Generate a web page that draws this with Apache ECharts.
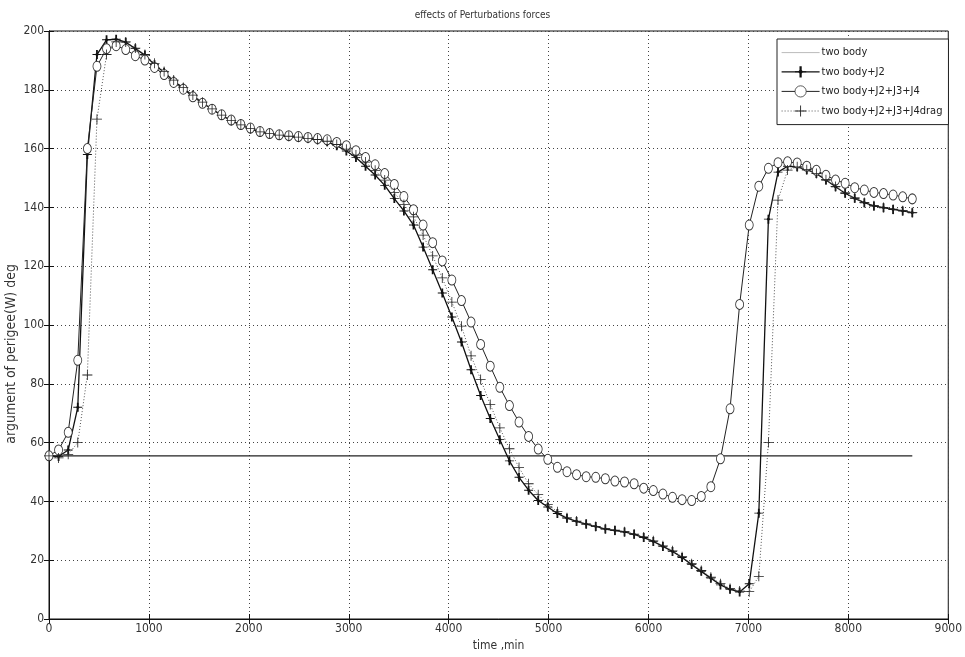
<!DOCTYPE html>
<html>
<head>
<meta charset="utf-8">
<script src="https://cdn.jsdelivr.net/npm/echarts@6/dist/echarts.min.js"></script>
<style>
  html, body { margin: 0; padding: 0; background: #fff; }
  #chart { width: 965px; height: 657px; }
</style>
</head>
<body>
<div id="chart"></div>
<script>
// time in minutes, one sample every 96 min
const timeMin = [0, 96, 192, 288, 384, 480, 576, 672, 768, 864,
  960, 1056, 1152, 1248, 1344, 1440, 1536, 1632, 1728, 1824,
  1920, 2016, 2112, 2208, 2304, 2400, 2496, 2592, 2688, 2784,
  2880, 2976, 3072, 3168, 3264, 3360, 3456, 3552, 3648, 3744,
  3840, 3936, 4032, 4128, 4224, 4320, 4416, 4512, 4608, 4704,
  4800, 4896, 4992, 5088, 5184, 5280, 5376, 5472, 5568, 5664,
  5760, 5856, 5952, 6048, 6144, 6240, 6336, 6432, 6528, 6624,
  6720, 6816, 6912, 7008, 7104, 7200, 7296, 7392, 7488, 7584,
  7680, 7776, 7872, 7968, 8064, 8160, 8256, 8352, 8448, 8544, 8640];

const twoBody = [55.5, 55.5];   // constant, first and last time only
const twoBodyTimes = [0, 8640];

const withJ2 = [55.5, 55.3, 57.5, 72, 158, 192, 197, 197.2, 196.2, 194,
  191.8, 188.5, 186, 183, 180.6, 178, 175.6, 173.4, 171.3, 169.5,
  168, 166.7, 165.6, 165, 164.5, 164.1, 163.8, 163.4, 163, 162.3,
  161, 159.2, 157, 154, 151, 147.5, 143, 138.8, 134, 126.5,
  118.8, 110.9, 102.7, 94.2, 84.8, 76, 68.2, 61, 53.8, 48.2,
  43.8, 40.3, 38.1, 35.9, 34.3, 33.2, 32.3, 31.5, 30.6, 30.1,
  29.6, 28.8, 27.7, 26.4, 24.7, 23, 20.9, 18.5, 16.2, 13.9,
  11.6, 10.1, 9.2, 12, 36, 136, 152, 154, 153.8, 152.8,
  151.5, 149.3, 147, 144.8, 143.1, 141.6, 140.5, 139.9, 139.3, 138.8, 138.2];

const withJ234 = [55.5, 57.5, 63.5, 88, 160, 188, 194, 195, 193.7, 191.6,
  190.1, 187.6, 185.2, 182.5, 180.2, 177.6, 175.4, 173.4, 171.5, 169.7,
  168.2, 167, 165.8, 165.1, 164.7, 164.4, 164.1, 163.8, 163.4, 163,
  162.1, 161, 159.3, 157, 154.5, 151.5, 147.8, 143.7, 139.2, 134,
  128, 121.8, 115.3, 108.3, 101, 93.4, 86, 78.8, 72.6, 67,
  62.1, 57.8, 54.3, 51.6, 50.1, 49.1, 48.4, 48.2, 47.7, 46.9,
  46.6, 46, 44.5, 43.7, 42.5, 41.4, 40.6, 40.3, 41.7, 45,
  54.5, 71.5, 107, 134, 147.2, 153.3, 155.2, 155.5, 155.1, 154,
  152.6, 150.9, 149.3, 148.2, 146.7, 145.9, 145.1, 144.7, 144.2, 143.6, 142.9];

const withDrag = [55.5, 54.8, 56, 60, 83, 170, 192, 196.3, 196.3, 194.2,
  192, 189, 186.2, 183.3, 180.8, 178.2, 175.8, 173.5, 171.4, 169.6,
  168.1, 166.8, 165.7, 165.1, 164.6, 164.2, 163.9, 163.5, 163.1, 162.5,
  161.4, 159.8, 157.8, 155.4, 152.6, 149.3, 145, 141, 136.8, 130.6,
  123.5, 116, 107.8, 99.6, 89.5, 81.5, 73, 65, 57.9, 51.5,
  46, 42.3, 39, 36.5, 34.4, 33.3, 32.3, 31.5, 30.7, 30.2,
  29.7, 28.9, 27.9, 26.6, 24.9, 23.2, 21.2, 18.8, 16.5, 14.2,
  12, 10.4, 9.5, 9.3, 14.5, 60, 142.5, 152.7, 153.8, 152.8,
  151.5, 149.4, 147.1, 144.9, 143.2, 141.7, 140.6, 140, 139.4, 138.9, 138.3];

const seriesNames = ['two body', 'two body+J2', 'two body+J2+J3+J4', 'two body+J2+J3+J4drag'];

const FONT = '"Liberation Sans Narrow", "DejaVu Sans Condensed", "Liberation Sans", sans-serif';

function pairs(xs, ys) {
  return ys.map((v, i) => [xs[i], v]);
}

const plusThick = 'path://M4,0 L6,0 L6,3.5 L7.2,5 L6,6.5 L6,10 L4,10 L4,6.5 L2.8,5 L4,3.5 Z M0,4.5 L10,4.5 L10,5.5 L0,5.5 Z';
const plusThin = 'path://M4.6,0 L5.4,0 L5.4,4.6 L10,4.6 L10,5.4 L5.4,5.4 L5.4,10 L4.6,10 L4.6,5.4 L0,5.4 L0,4.6 L4.6,4.6 Z';

const chart = echarts.init(document.getElementById('chart'));
chart.setOption({
  animation: false,
  backgroundColor: '#fff',
  title: {
    text: 'effects of Perturbations forces',
    left: 'center',
    top: 5,
    textStyle: { fontFamily: FONT, fontSize: 10, fontWeight: 'normal', color: '#333' }
  },
  legend: {
    orient: 'vertical',
    left: 777,
    top: 39,
    padding: [8, 6, 8, 4],
    itemGap: 8,
    itemWidth: 38,
    itemHeight: 14,
    backgroundColor: '#fff',
    borderColor: '#222',
    borderWidth: 1,
    textStyle: { fontFamily: FONT, fontSize: 11, color: '#222', padding: [0, 0, 0, -3] },
    data: [
      { name: seriesNames[0], itemStyle: { opacity: 0 }, lineStyle: { color: '#bbb', width: 1 } },
      { name: seriesNames[1], lineStyle: { width: 1.2 } },
      { name: seriesNames[2], itemStyle: { borderWidth: 0.8 }, lineStyle: { width: 1 } },
      { name: seriesNames[3], lineStyle: { width: 1 } }
    ]
  },
  grid: { left: 49, right: 15, top: 31, bottom: 38, show: true, borderColor: '#111', borderWidth: 1 },
  xAxis: [{
    type: 'value', min: 0, max: 9000, interval: 1000,
    name: 'time ,min', nameLocation: 'middle', nameGap: 21,
    nameTextStyle: { fontFamily: FONT, fontSize: 12, color: '#333' },
    axisLine: { onZero: false, lineStyle: { color: '#111' } },
    axisTick: { inside: true, length: 5, lineStyle: { color: '#111' } },
    axisLabel: { fontFamily: FONT, fontSize: 12, color: '#333', margin: 4, formatter: v => String(v) },
    splitLine: { show: true, lineStyle: { type: [1, 3], color: '#444', width: 1 } }
  }, {
    type: 'value', min: 0, max: 9000, interval: 1000, position: 'top',
    axisLine: { lineStyle: { color: '#111' } },
    axisTick: { inside: true, length: 5, lineStyle: { color: '#111' } },
    axisLabel: { show: false }, splitLine: { show: false }
  }],
  yAxis: [{
    type: 'value', min: 0, max: 200, interval: 20,
    axisLine: { show: true, onZero: false, lineStyle: { color: '#111' } },
    axisTick: { show: true, inside: true, length: 5, lineStyle: { color: '#111' } },
    axisLabel: { fontFamily: FONT, fontSize: 12, color: '#333', margin: 5 },
    splitLine: { show: true, lineStyle: { type: [1, 3], color: '#444', width: 1 } }
  }, {
    type: 'value', min: 0, max: 200, interval: 20, position: 'right',
    axisLine: { show: true, lineStyle: { color: '#111' } },
    axisTick: { show: true, inside: true, length: 5, lineStyle: { color: '#111' } },
    axisLabel: { show: false }, splitLine: { show: false }
  }],
  graphic: [{
    type: 'text',
    left: 4,
    top: 264,
    rotation: Math.PI / 2,
    style: {
      text: 'argument of perigee(W) deg',
      font: '14px ' + FONT,
      fill: '#333'
    }
  }],
  series: [{
    name: seriesNames[0], type: 'line',
    data: pairs(twoBodyTimes, twoBody),
    showSymbol: false, symbol: 'none',
    lineStyle: { color: '#222', width: 1.2 },
    itemStyle: { color: '#bbb' }
  }, {
    name: seriesNames[1], type: 'line',
    data: pairs(timeMin, withJ2),
    symbol: plusThick, symbolSize: 9, showAllSymbol: true,
    lineStyle: { color: '#111', width: 1.3 },
    itemStyle: { color: '#111' }
  }, {
    name: seriesNames[2], type: 'line',
    data: pairs(timeMin, withJ234),
    symbol: 'circle', symbolSize: [8, 10], showAllSymbol: true,
    lineStyle: { color: '#222', width: 1 },
    itemStyle: { color: '#fff', borderColor: '#333', borderWidth: 0.9 }
  }, {
    name: seriesNames[3], type: 'line',
    data: pairs(timeMin, withDrag),
    symbol: plusThin, symbolSize: 10, showAllSymbol: true,
    lineStyle: { color: '#555', width: 1, type: [1, 2] },
    itemStyle: { color: '#222' }
  }]
});
</script>
</body>
</html>
